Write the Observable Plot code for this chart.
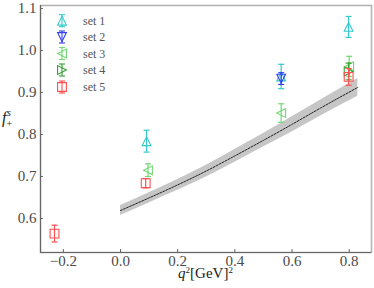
<!DOCTYPE html>
<html><head><meta charset="utf-8">
<script src="https://cdn.jsdelivr.net/npm/d3@7"></script>
<script src="https://cdn.jsdelivr.net/npm/@observablehq/plot@0.6"></script>
<style>
body{margin:0;background:#fff;}
#chart svg{display:block;}
</style>
</head><body><div id="chart"></div>
<script>
// ---- data ----
const setNames = ["set 1", "set 2", "set 3", "set 4", "set 5"];
const set1Q = [0.091, 0.562, 0.798];
const set1F = [0.784, 0.938, 1.056];
const set1E = [0.026, 0.029, 0.025];
const set2Q = [0.562];
const set2F = [0.933];
const set2E = [0.014];
const set3Q = [0.096, 0.562, 0.800];
const set3F = [0.715, 0.851, 0.962];
const set3E = [0.015, 0.022, 0.024];
const set4Q = [0.798];
const set4F = [0.950];
const set4E = [0.020];
const set5Q = [-0.231, 0.088, 0.798];
const set5F = [0.564, 0.684, 0.937];
const set5E = [0.020, 0.011, 0.020];
// fit band
const bandQ = [0, 0.1, 0.2, 0.3, 0.4, 0.5, 0.6, 0.7, 0.83];
const bandF = [0.619, 0.649, 0.680, 0.713, 0.749, 0.786, 0.824, 0.863, 0.912];
const bandE = [0.012, 0.012, 0.013, 0.014, 0.015, 0.016, 0.018, 0.019, 0.021];
const xTicks = [-0.2, 0.0, 0.2, 0.4, 0.6, 0.8];
const yTicks = [0.6, 0.7, 0.8, 0.9, 1.0, 1.1];

// ---- styles ----
const colors = ["#33c9cc", "#3340ee", "#72d872", "#30a030", "#ff5050"];
const R = 4.4;
const poly = pts => ({draw(ctx){ ctx.moveTo(pts[0][0], pts[0][1]); for (let i = 1; i < pts.length; i++) ctx.lineTo(pts[i][0], pts[i][1]); ctx.closePath(); }});
const symbols = [
  poly([[0,-R],[R,R],[-R,R]]),      // triangle up
  poly([[0,R],[R,-R],[-R,-R]]),     // triangle down
  poly([[-R,0],[R,-R],[R,R]]),      // triangle left
  poly([[R,0],[-R,-R],[-R,R]]),     // triangle right
  poly([[-R,-R],[R,-R],[R,R],[-R,R]]) // square
];
const cap = {draw(ctx){ ctx.moveTo(-3,0); ctx.lineTo(3,0); }};

const sets = [[set1Q,set1F,set1E],[set2Q,set2F,set2E],[set3Q,set3F,set3E],[set4Q,set4F,set4E],[set5Q,set5F,set5E]];
const band = bandQ.map((q,i) => ({q, f: bandF[i], lo: bandF[i]-bandE[i], hi: bandF[i]+bandE[i]}));

const xDomain = [-0.28, 0.878];
const yDomain = [0.519, 1.107];

const marks = [
  Plot.areaY(band, {x: "q", y1: "lo", y2: "hi", fill: "#c6c6c6", curve: "monotone-x"}),
  Plot.line(band, {x: "q", y: "f", stroke: "#222", strokeWidth: 1, strokeDasharray: "2,1.3", curve: "monotone-x"}),
];
sets.forEach(([Q,F,E], s) => {
  const pts = Q.map((q,i) => ({q, f: F[i], lo: F[i]-E[i], hi: F[i]+E[i]}));
  marks.push(
    Plot.ruleX(pts, {x: "q", y1: "lo", y2: "hi", stroke: colors[s], strokeWidth: 1.2}),
    Plot.dot(pts, {x: "q", y: "hi", symbol: cap, r: 1, stroke: colors[s], strokeWidth: 1.2}),
    Plot.dot(pts, {x: "q", y: "lo", symbol: cap, r: 1, stroke: colors[s], strokeWidth: 1.2}),
    Plot.dot(pts, {x: "q", y: "f", symbol: symbols[s], r: 1, stroke: colors[s], fill: "none", strokeWidth: 1.1})
  );
});
marks.push(
  Plot.frame({stroke: "#b4b4b4", strokeWidth: 1.6}),
  Plot.ruleX([xDomain[0]], {stroke: "#666", strokeWidth: 1.1}),
  Plot.ruleY([yDomain[0]], {stroke: "#666", strokeWidth: 1.1}),
  Plot.axisX(xTicks, {tickSize: 3, dy: -3, text: null, stroke: "#666", label: null}),
  Plot.axisX(xTicks, {tickSize: 0, tickPadding: 3, tickFormat: d3.format(".1f"), fontSize: 15, fill: "#4a4a4a", label: null}),
  Plot.axisY(yTicks, {tickSize: 3, dx: 3, text: null, stroke: "#666", label: null}),
  Plot.axisY(yTicks, {tickSize: 0, tickPadding: 4, tickFormat: d3.format(".1f"), fontSize: 15, fill: "#4a4a4a", label: null})
);

const svg = Plot.plot({
  width: 374, height: 288,
  marginLeft: 40, marginRight: 3, marginTop: 5, marginBottom: 36,
  style: {fontFamily: "'Liberation Serif', serif", background: "white"},
  x: {domain: xDomain},
  y: {domain: yDomain},
  marks
});
document.getElementById("chart").appendChild(svg);

// ---- labels and legend ----
const g = d3.select(svg).append("g").attr("font-family", "'Liberation Serif', serif").attr("text-anchor", "start");
const yl = g.append("text").attr("x", 2).attr("y", 123).attr("font-size", 16).attr("fill", "#222");
yl.append("tspan").attr("font-style", "italic").text("f");
yl.append("tspan").attr("font-size", 10).attr("dx", 0).attr("dy", 4).text("+");
yl.append("tspan").attr("font-style", "italic").attr("font-size", 10).attr("dx", -5).attr("dy", -11).text("s");

const xl = g.append("text").attr("x", 205.5).attr("y", 278).attr("text-anchor", "middle").attr("font-size", 15).attr("fill", "#222");
xl.append("tspan").attr("font-style", "italic").text("q");
xl.append("tspan").attr("font-size", 9).attr("dy", -5).text("2");
xl.append("tspan").attr("dy", 5).text("[GeV]");
xl.append("tspan").attr("font-size", 9).attr("dy", -5).text("2");

const legendY = [20.7, 37, 53.5, 70, 87];
setNames.forEach((name, s) => {
  const lg = g.append("g").attr("transform", `translate(62,${legendY[s]})`).attr("stroke", colors[s]).attr("fill", "none").attr("stroke-width", 1.1);
  lg.append("line").attr("x1", 0).attr("x2", 0).attr("y1", -6).attr("y2", 6);
  lg.append("line").attr("x1", -3).attr("x2", 3).attr("y1", -6).attr("y2", -6);
  lg.append("line").attr("x1", -3).attr("x2", 3).attr("y1", 6).attr("y2", 6);
  lg.append("path").attr("d", d3.symbol(symbols[s], 1)());
  g.append("text").attr("x", 83).attr("y", legendY[s] + 4).attr("font-size", 12).attr("fill", "#555").text(name);
});
</script>
</body></html>
